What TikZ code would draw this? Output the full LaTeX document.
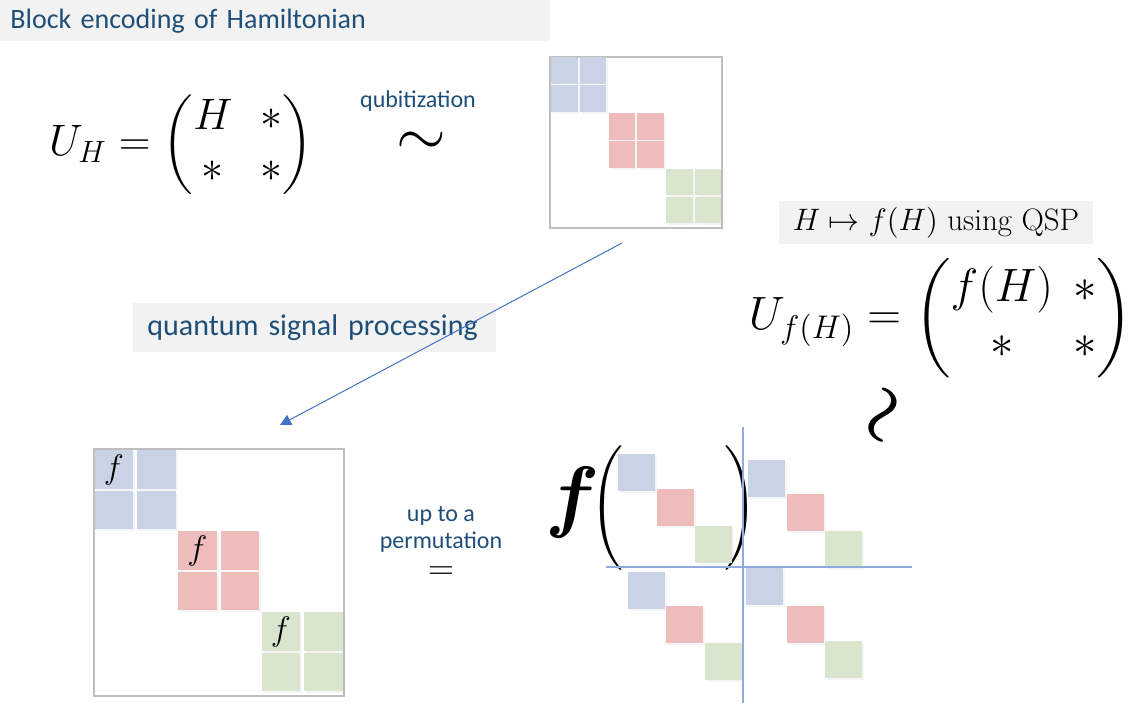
\RequirePackage{fix-cm}
\documentclass[tikz,border=0pt]{standalone}
\usepackage{amsmath,bm}
\usepackage{fontspec}
\newfontfamily\calibri{Carlito}
\usetikzlibrary{arrows.meta,positioning,shadows}

\definecolor{azul}{HTML}{C9D3E5}
\definecolor{rojo}{HTML}{EFBCBC}
\definecolor{verde}{HTML}{DAE5CE}
\definecolor{grismarco}{HTML}{BFBFBF}
\definecolor{grisfondo}{HTML}{F2F2F2}
\definecolor{textoazul}{HTML}{1F4E79}
\definecolor{lineaazul}{HTML}{4472C4}
\definecolor{ejeazul}{HTML}{8FAADC}

\begin{document}
\begin{tikzpicture}[
            x=0.5pt, y=-0.5pt,
            caja/.style={fill=grisfondo, inner ysep=0pt, text=textoazul, font=\calibri\fontsize{14}{16.8}\selectfont},
            rotulo/.style={text=textoazul, align=center, inner sep=0pt, font=\calibri\fontsize{12}{13.5}\selectfont},
            marco/.style={draw=grismarco, line width=1pt, fill=white, inner sep=0pt},
            celda/.style={inner sep=0pt, draw=none, drop shadow={shadow xshift=1pt, shadow yshift=-1pt, opacity=0.08}},
            formula/.style={inner sep=0pt, font=\fontsize{22}{26}\selectfont},
            flecha/.style={-{Triangle[length=5.5pt, width=5.5pt]}, draw=lineaazul, line width=0.5pt},
            eje/.style={draw=ejeazul, line width=0.75pt}
        ]
        \useasboundingbox[fill=white] (0,0) rectangle (1134,705);

        % Titulo arriba a la izquierda
        \node[caja, anchor=north west, minimum height=20.5pt, text width=265pt, inner xsep=5pt] (titulo) at (0,0)
        {Block encoding of Hamiltonian};

        % Codificacion en bloque de H
        \node[formula] (uh) at (181,145)
        {\arraycolsep=7pt$U_H = \begin{pmatrix} H & * \\ * & * \end{pmatrix}$};
        \node[inner sep=0pt, font=\fontsize{32}{36}\selectfont] (sim) at (421,144) {$\sim$};
        \node[rotulo] (qubit) at (418,101) {qubitization};

        % Matriz pequena tras la qubitizacion
        \node[marco, minimum width=86pt, minimum height=85.5pt] (mq) at (636,142.5) {};
        \foreach \k/\col in {0/azul,1/rojo,2/verde}
          \foreach \i in {0,1}
            \foreach \j in {0,1}
              \node[celda, fill=\col, minimum size=13.25pt] (mq-\k-\i-\j)
                at (564.25+57.5*\k+28.5*\j, 70.75+55.7*\k+28*\i) {};

        % Procesado de senal cuantico
        \node[caja, anchor=north west, minimum height=24.5pt, text width=167.5pt, inner xsep=7pt,
              font=\calibri\fontsize{15}{18}\selectfont] (qsp) at (133,303)
        {quantum signal processing};
        \coordinate (desde) at (622,243);
        \coordinate (hasta) at (280,425);
        \draw[flecha] (desde) -- (hasta);

        % Lado derecho: f(H)
        \node[fill=grisfondo, inner sep=0pt, minimum width=157pt, minimum height=21.5pt, font=\fontsize{15.5}{18}\selectfont] (mapa) at (936,222.5)
        {$H \mapsto f(H)$ using QSP};
        \node[formula, font=\fontsize{23.4}{28}\selectfont] (ufh) at (941,318)
        {$U_{f(H)} = \begin{pmatrix} f(H) & * \\ * & * \end{pmatrix}$};
        \node[inner sep=0pt, font=\fontsize{34}{40}\selectfont, rotate=70] (simrot) at (886,416) {$\bm{\sim}$};

        % Matriz grande con f en cada bloque
        \node[marco, minimum width=125pt, minimum height=123.5pt] (ml) at (219,572.5) {};
        \foreach \k/\col in {0/azul,1/rojo,2/verde}
          \foreach \i in {0,1}
            \foreach \j in {0,1}
              \node[celda, fill=\col, minimum size=19.25pt] (ml-\k-\i-\j)
                at (114+83.5*\k+42.5*\j, 469.5+81*\k+40.5*\i) {};
        \foreach \k in {0,1,2}
          \node[inner sep=0pt, font=\fontsize{17}{20}\selectfont] (f-\k) at (ml-\k-0-0) {$f$};

        % Igualdad salvo permutacion
        \node[rotulo] (perm) at (441,529) {up to a\\permutation};
        \node[inner sep=0pt, font=\fontsize{18}{22}\selectfont] (igual) at (441,573) {$=$};

        % f( ... ) y los cuatro cuadrantes
        \node[inner sep=0pt, font=\fontsize{40}{48}\selectfont, anchor=base] (fgrande) at (573,522) {$\bm{f}$};
        \node[inner sep=0pt, font=\fontsize{22}{26}\selectfont] (pizq) at (608,508)
        {$\left(\vrule height 26pt depth 24pt width 0pt\right.$};
        \node[inner sep=0pt, font=\fontsize{22}{26}\selectfont] (pder) at (740,508)
        {$\left.\vrule height 26pt depth 24pt width 0pt\right)$};
        \foreach \nom/\col/\x/\y in {
            pa/azul/636.5/472, pr/rojo/675.5/507, pv/verde/713.5/544,
            sa/azul/766.5/478, sr/rojo/805.5/512, sv/verde/843.5/549,
            ia/azul/646.5/590, ir/rojo/684.5/624, iv/verde/723.5/661,
            da/azul/764.5/586.5, dr/rojo/805.5/624, dv/verde/843.5/659}
          \node[celda, fill=\col, minimum size=18.5pt] (\nom) at (\x,\y) {};
        \draw[eje] (743,427) -- (743,703);
        \draw[eje] (606,567) -- (912,567);

    \end{tikzpicture}
\end{document}
